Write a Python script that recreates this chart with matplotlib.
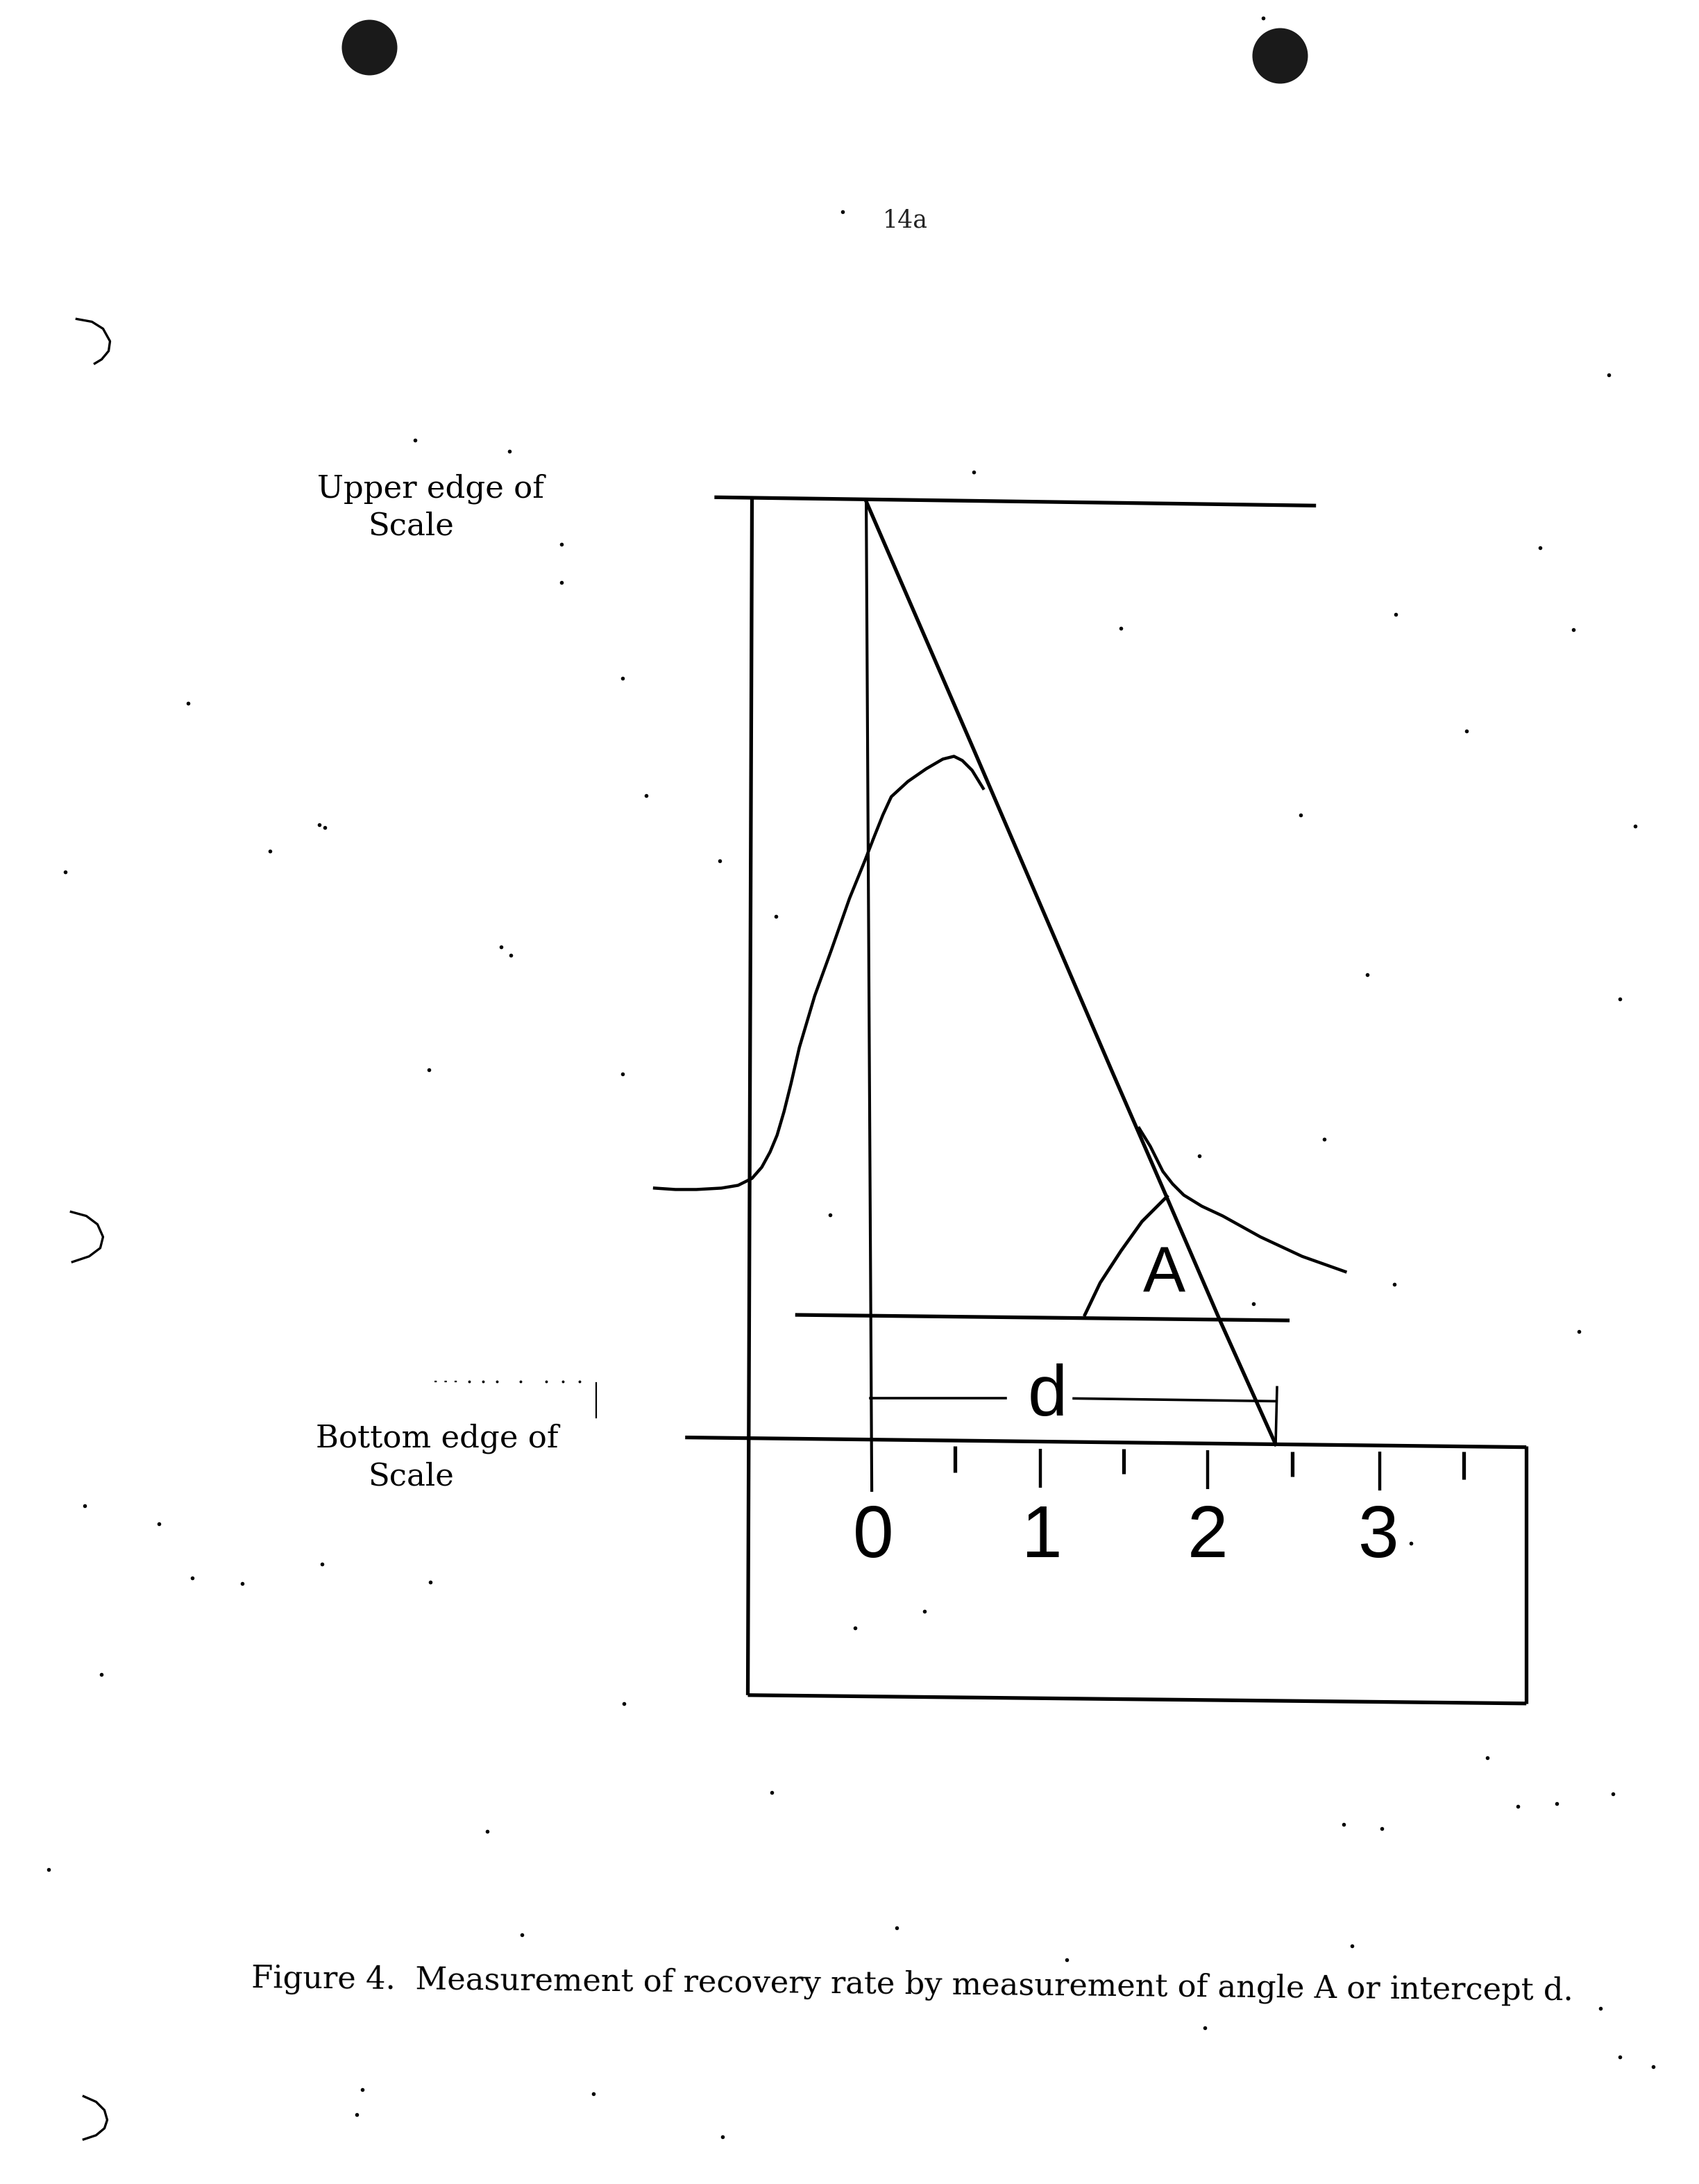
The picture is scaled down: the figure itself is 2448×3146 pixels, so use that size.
import numpy as np
import matplotlib
matplotlib.use('Agg')
import matplotlib.pyplot as plt

plt.rcParams['font.family'] = ['DejaVu Serif']

# everything, in shrunk picture units (1220x1568)
rise_x = [470, 485, 500, 518, 530, 540, 547, 553, 558, 563, 568, 574, 585, 597, 610, 621, 628, 634, 640, 652, 665, 677, 685, 691, 698, 706]
rise_y = [853, 854, 854, 853, 851, 846, 838, 827, 815, 798, 778, 752, 715, 682, 645, 618, 600, 585, 572, 561, 552, 545, 543, 546, 553, 566]
tail_x = [818, 826, 835, 842, 850, 863, 878, 905, 935, 966]
tail_y = [810, 823, 841, 850, 858, 866, 873, 888, 902, 913]
tangent_x = [622, 700, 798, 838, 876, 916]
tangent_y = [360, 540, 768, 860, 948, 1037]
arc_x = [779, 790, 805, 820, 838]
arc_y = [944, 921, 898, 877, 859]

top_edge_x, top_edge_y = [513, 945], [357, 363]
bottom_edge_x, bottom_edge_y = [492, 1096], [1032, 1039]
base_x, base_y = [571, 926], [944, 948]
zero_x, zero_y = [622, 626], [360, 1070]
left_x, left_y = [540, 537], [357, 1217]
box_bottom_x, box_bottom_y = [537, 1096], [1217, 1223]
right_x, right_y = [1096, 1096], [1038, 1223]
d_left_x, d_left_y = [625, 722], [1004, 1004]
d_right_x, d_right_y = [771, 916], [1004, 1006]
d_stop_x, d_stop_y = [917, 916], [996, 1037]

major_ticks = [747, 867, 991]
major_top = [1040, 1041, 1042]
major_end = [1068, 1069, 1070]
minor_ticks = [686, 807, 928, 1051]
minor_top = [1038, 1040, 1042, 1042]
minor_end = [1057, 1058, 1060, 1062]
tick_labels = ['0', '1', '2', '3']
tick_label_x = [627, 748, 867, 990]

holes_x = [265, 919]
holes_y = [34, 40]

paren_1x, paren_1y = [55, 66, 74, 79, 78, 73, 68], [229, 231, 236, 245, 252, 258, 261]
paren_2x, paren_2y = [51, 62, 70, 74, 72, 64, 52], [870, 873, 879, 888, 896, 902, 906]
paren_3x, paren_3y = [60, 69, 75, 77, 75, 69, 60], [1505, 1509, 1515, 1522, 1528, 1533, 1536]

dash_x, dash_y = [312, 330], [992, 992]
dots_x = [337, 347, 357, 374, 392, 404, 416]
dots_y = [992, 992, 992, 992, 992, 992, 992]
short_x, short_y = [428, 428], [993, 1018]

specks_x = [605, 907, 298, 366, 699, 403, 403, 447, 135, 229, 233, 194, 47, 517, 557, 360, 367, 447, 308, 464, 596,
            1155, 1106, 1002, 1130, 805, 1053, 934, 982, 1174, 1163, 1134, 900, 861, 951, 1001, 1068, 1158, 1090, 1118,
            61, 114, 138, 174, 231, 309, 614, 664, 73, 448, 350, 554, 965, 992, 1149, 35, 375, 644, 766, 971,
            865, 1163, 1187, 260, 256, 426, 519, 1013]
specks_y = [152, 13, 316, 324, 339, 391, 418, 487, 505, 592, 594, 611, 626, 618, 658, 680, 686, 771, 768, 571, 872,
            269, 393, 441, 452, 451, 525, 585, 700, 593, 717, 956, 936, 830, 818, 922, 1262, 1288, 1297, 1295,
            1081, 1094, 1133, 1137, 1123, 1136, 1169, 1157, 1202, 1223, 1315, 1287, 1310, 1313, 1442, 1342, 1389,
            1384, 1407, 1397, 1456, 1477, 1484, 1500, 1518, 1503, 1534, 1108]

upper_lines = ['Upper edge of', 'Scale']
bottom_lines = ['Bottom edge of', 'Scale']
page_number = '14a'
caption = 'Figure 4.  Measurement of recovery rate by measurement of angle A or intercept d.'

fig = plt.figure(figsize=(12.24, 15.73), dpi=200)
ax = fig.add_axes([0, 0, 1, 1])
ax.set_xlim(0, 1220)
ax.set_ylim(1568, 0)
ax.axis('off')

# ruler and reference lines
for x, y in [(top_edge_x, top_edge_y), (bottom_edge_x, bottom_edge_y), (base_x, base_y), (left_x, left_y),
             (box_bottom_x, box_bottom_y), (right_x, right_y)]:
    ax.plot(x, y, color='k', lw=1.9, solid_capstyle='butt')
ax.plot(zero_x, zero_y, color='k', lw=1.5)
for x, y in [(d_left_x, d_left_y), (d_right_x, d_right_y), (d_stop_x, d_stop_y)]:
    ax.plot(x, y, color='k', lw=1.3)
ax.plot(short_x, short_y, color='k', lw=0.8)
ax.plot(dash_x, dash_y, color='k', lw=0.8, ls=(0, (1.5, 5)))
ax.scatter(dots_x, dots_y, s=2, color='k', lw=0)

ax.vlines(major_ticks, major_top, major_end, color='k', lw=1.6)
ax.vlines(minor_ticks, minor_top, minor_end, color='k', lw=1.9)

# recovery curve and construction
ax.plot(rise_x, rise_y, color='k', lw=1.6)
ax.plot(tail_x, tail_y, color='k', lw=1.6)
ax.plot(tangent_x, tangent_y, color='k', lw=1.9)
ax.plot(arc_x, arc_y, color='k', lw=1.7)

for paren_x, paren_y in [(paren_1x, paren_1y), (paren_2x, paren_2y), (paren_3x, paren_3y)]:
    ax.plot(paren_x, paren_y, color='k', lw=1.2)

# punched holes and dirt on the scan
ax.scatter(holes_x, holes_y, s=830, color='#1a1a1a', lw=0)
ax.scatter(specks_x, specks_y, s=4, color='k', lw=0)

sans = ['Liberation Sans', 'DejaVu Sans']
for label, x in zip(tick_labels, tick_label_x):
    ax.text(x, 1104, label, family=sans, fontsize=38, ha='center', va='center')
ax.text(752, 1003, 'd', family=sans, fontsize=37, ha='center', va='center')
ax.text(836, 916, 'A', family=sans, fontsize=33, ha='center', va='center')

ax.text(309, 351, upper_lines[0], fontsize=16.2, ha='center', va='center')
ax.text(295, 378, upper_lines[1], fontsize=16.2, ha='center', va='center')
ax.text(314, 1033, bottom_lines[0], fontsize=16.2, ha='center', va='center')
ax.text(295, 1060, bottom_lines[1], fontsize=16.2, ha='center', va='center')
ax.text(650, 158, page_number, fontsize=12.5, ha='center', va='center', color='#222222')
ax.text(655, 1425, caption, fontsize=16.1, ha='center', va='center', rotation=-0.55, rotation_mode='anchor')

fig.savefig('out.png', dpi=200, facecolor='white')
